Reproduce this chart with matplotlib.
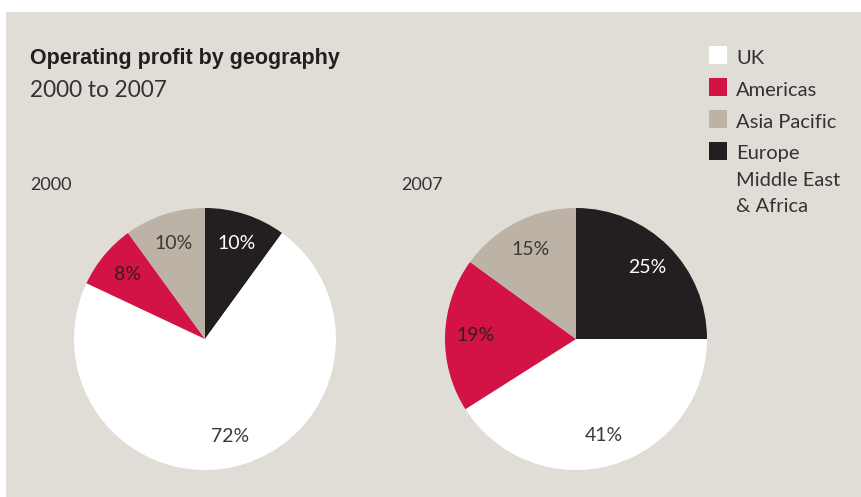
import matplotlib
matplotlib.use("Agg")
import matplotlib.pyplot as plt
from matplotlib.patches import Rectangle

# data
regions = ["Europe\nMiddle East\n& Africa", "UK", "Americas", "Asia Pacific"]
share_2000 = [10, 72, 8, 10]
share_2007 = [25, 41, 19, 15]
years = ["2000", "2007"]
legend_order = ["UK", "Americas", "Asia Pacific", "Europe\nMiddle East\n& Africa"]

colors = {"UK": "#ffffff", "Americas": "#d31245", "Asia Pacific": "#bcb2a6",
          "Europe\nMiddle East\n& Africa": "#231f20"}
label_colors = {"UK": "#3a3a3a", "Americas": "#3a1a22", "Asia Pacific": "#3a3a3a",
                "Europe\nMiddle East\n& Africa": "#ffffff"}

BG = "#e0dcd6"
TXT = "#333333"
W, H = 862, 497
body_font = ["Lato", "DejaVu Sans"]
title_font = ["Liberation Sans Narrow", "Liberation Sans", "DejaVu Sans"]


def fx(px):
    return px / W


def fy(py):
    return 1 - py / H


fig = plt.figure(figsize=(W / 100, H / 100), dpi=100)
fig.patch.set_facecolor("white")

# grey panel behind everything
bg_ax = fig.add_axes([fx(6), 0, 1 - fx(6), 1 - 12 / H], zorder=-10)
bg_ax.set_facecolor(BG)
bg_ax.set_xticks([])
bg_ax.set_yticks([])
for s in bg_ax.spines.values():
    s.set_visible(False)

fig.text(fx(30), fy(64), "Operating profit by geography", fontsize=15.5, fontweight="bold",
         family=title_font, color="#231f20", va="baseline")
fig.text(fx(30), fy(97), "2000 to 2007", fontsize=16.3, family=body_font, color=TXT,
         va="baseline")


def draw_pie(cx, cy, r, values, year, year_x):
    ax = fig.add_axes([fx(cx - r), fy(cy + r), 2 * r / W, 2 * r / H])
    wedges, texts, autotexts = ax.pie(values, colors=[colors[k] for k in regions],
                                      startangle=90, counterclock=False, radius=1,
                                      autopct="%d%%", pctdistance=0.77,
                                      wedgeprops=dict(linewidth=0),
                                      textprops=dict(fontsize=14, family=body_font))
    for t, k in zip(autotexts, regions):
        t.set_color(label_colors[k])
    ax.set_xlim(-1, 1)
    ax.set_ylim(-1, 1)
    ax.set_aspect("equal")
    ax.axis("off")
    fig.text(fx(year_x), fy(190), year, fontsize=13, family=body_font, color=TXT,
             va="baseline")


draw_pie(205, 339, 131, share_2000, years[0], 30)
draw_pie(576, 339, 131, share_2007, years[1], 401)

# legend
top = 46
for i, name in enumerate(legend_order):
    y0 = top + 32 * i
    fig.patches.append(Rectangle((fx(709), fy(y0 + 18)), 18 / W, 18 / H,
                                 transform=fig.transFigure, facecolor=colors[name],
                                 edgecolor="none", zorder=2))
    for j, line in enumerate(name.split("\n")):
        fig.text(fx(736), fy(y0 + 17.5 + 26.5 * j), line, fontsize=14.5, family=body_font,
                 color=TXT, va="baseline")

fig.savefig("out.png", dpi=100, facecolor=fig.get_facecolor())
